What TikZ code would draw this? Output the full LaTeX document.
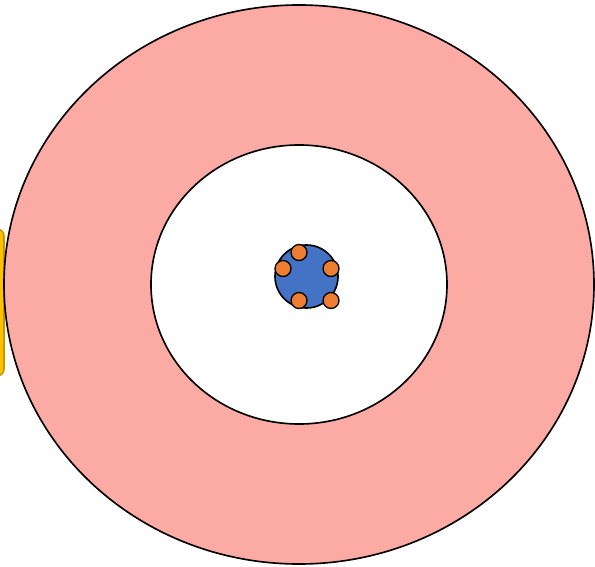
\documentclass[tikz,border=0pt]{standalone}
\usepackage{xcolor}
\usepackage{tikz}

\definecolor{ringpink}{HTML}{FBABA3}
\definecolor{coreblue}{HTML}{4472C4}
\definecolor{dotorange}{HTML}{ED7D31}
\definecolor{tabgold}{HTML}{FFC000}
\definecolor{tabedge}{HTML}{C99700}

\begin{document}
\begin{tikzpicture}[x=0.03cm, y=-0.03cm, line width=1.4pt,
    ring/.style={draw=black, fill=ringpink},
    hole/.style={draw=black, fill=white},
    core/.style={circle, draw=black, fill=coreblue, inner sep=0pt, minimum size=63*0.03cm},
    dot/.style={circle, draw=black, line width=1.1pt, fill=dotorange, inner sep=0pt, minimum size=16*0.03cm}]
    \clip (0,0) rectangle (595,567);
    \useasboundingbox (0,0) rectangle (595,567);

    % tab peeking out on the left
    \draw[tabedge, fill=tabgold, rounded corners=6pt] (-40,229) rectangle (4,376);

    % rings
    \coordinate (c) at (299,284.5);
    \draw[ring] (c) ellipse [x radius=295, y radius=279.5];
    \draw[hole] (c) ellipse [x radius=148, y radius=139.5];

    % core with its dots
    \node[core] (nucleus) at (306.5,276.5) {};
    \node[dot] (d1) at (299,252.5) {};
    \node[dot] (d2) at (283,268.5) {};
    \node[dot] (d3) at (331,268.5) {};
    \node[dot] (d4) at (299,300.5) {};
    \node[dot] (d5) at (331,300.5) {};
\end{tikzpicture}
\end{document}
